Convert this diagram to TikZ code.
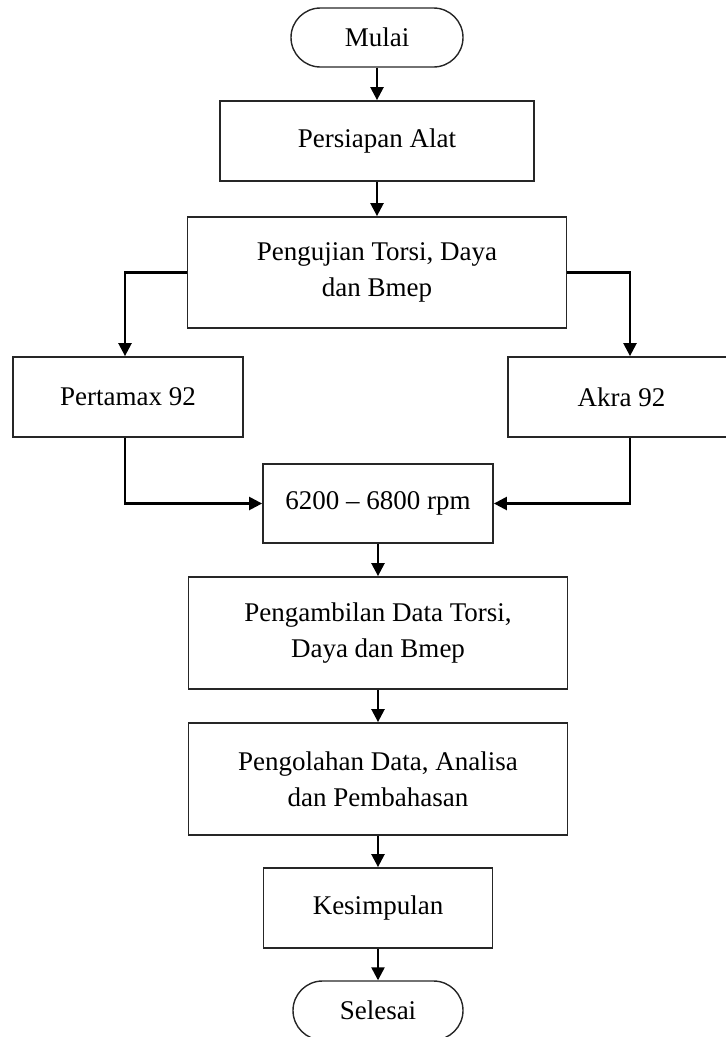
\documentclass[tikz,border=0pt]{standalone}
\usepackage{fontspec}
\setmainfont{Liberation Serif}
\usetikzlibrary{arrows.meta,shapes.misc}
\begin{document}
\begin{tikzpicture}[x=1pt,y=-1pt,
  box/.style={draw=black!85, line width=1.8pt, rectangle, inner sep=0pt, align=center, font=\fontsize{27}{36}\selectfont},
  term/.style={draw=black!85, line width=1.4pt, rounded rectangle, inner sep=0pt, font=\fontsize{27}{36}\selectfont},
  conn/.style={line width=2.4pt, -{Triangle[length=13pt,width=13pt]}},
  link/.style={line width=2.4pt}]
\useasboundingbox (0,0) rectangle (726,1037);
\node[term, minimum width=172pt, minimum height=59pt] (mulai) at (377,37.5) {Mulai};
\node[box, minimum width=314pt, minimum height=80pt] (alat) at (377,141) {Persiapan Alat};
\node[box, minimum width=379pt, minimum height=111pt] (uji) at (377,272.5) {Pengujian Torsi, Daya\\dan Bmep};
\node[box, minimum width=230pt, minimum height=80pt] (pert) at (128,397) {Pertamax 92};
\node[box, minimum width=227pt, minimum height=80pt] (akra) at (621.5,397) {Akra 92};
\node[box, minimum width=230pt, minimum height=79pt] (rpm) at (378,503.5) {6200 -- 6800 rpm};
\node[box, minimum width=379pt, minimum height=112pt] (ambil) at (378,633) {Pengambilan Data Torsi,\\Daya dan Bmep};
\node[box, minimum width=379pt, minimum height=112pt] (olah) at (378,779) {Pengolahan Data, Analisa\\dan Pembahasan};
\node[box, minimum width=229pt, minimum height=80pt] (simpul) at (378,908) {Kesimpulan};
\node[term, minimum width=170pt, minimum height=59pt] (selesai) at (378,1010.5) {Selesai};
\coordinate (lx) at (125,397);
\coordinate (rx) at (630,397);
\draw[conn] (mulai.south) -- (mulai.south |- alat.north);
\draw[conn] (alat.south) -- (alat.south |- uji.north);
\draw[conn] (uji.west) -| (lx |- pert.north);
\draw[conn] (uji.east) -| (rx |- akra.north);
\draw[conn] (lx |- pert.south) |- (rpm.west);
\draw[conn] (rx |- akra.south) |- (rpm.east);
\draw[conn] (rpm.south) -- (rpm.south |- ambil.north);
\draw[conn] (ambil.south) -- (ambil.south |- olah.north);
\draw[conn] (olah.south) -- (olah.south |- simpul.north);
\draw[conn] (simpul.south) -- (simpul.south |- selesai.north);
\end{tikzpicture}
\end{document}
